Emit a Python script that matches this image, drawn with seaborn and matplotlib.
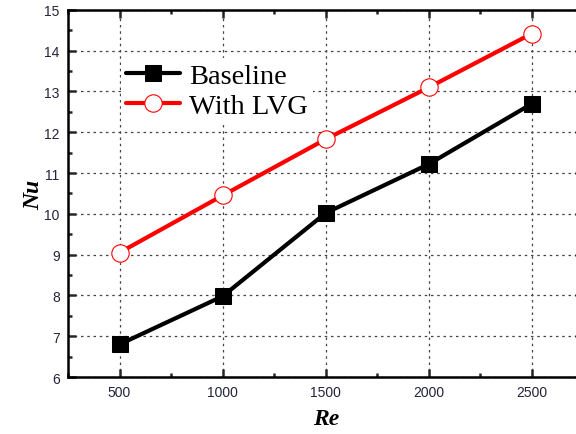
import numpy as np
import pandas as pd
import matplotlib
matplotlib.use("Agg")
import matplotlib.pyplot as plt
from matplotlib.ticker import MultipleLocator
import seaborn as sns

# Datos
re_vals = [500, 1000, 1500, 2000, 2500]
nu_baseline = [6.8, 7.98, 10.02, 11.22, 12.7]
nu_lvg = [9.05, 10.45, 11.83, 13.1, 14.42]
series_names = ["Baseline", "With LVG"]

df = pd.DataFrame({
    "Re": re_vals * 2,
    "Nu": nu_baseline + nu_lvg,
    "serie": [series_names[0]] * 5 + [series_names[1]] * 5,
})

sns.set_style("ticks")
plt.rcParams["font.family"] = ["Liberation Sans", "DejaVu Sans"]
plt.rcParams["text.color"] = "black"
plt.rcParams["axes.labelcolor"] = "black"

fig = plt.figure(figsize=(5.76, 4.35), dpi=100)
ax = fig.add_axes([0.118, 0.131, 0.895, 0.844])

# Baseline
sns.lineplot(data=df[df.serie == series_names[0]], x="Re", y="Nu", ax=ax,
             color="black", linewidth=3, marker="s", markersize=11.5,
             markerfacecolor="black", markeredgecolor="black",
             label=series_names[0], zorder=3)
# With LVG
sns.lineplot(data=df[df.serie == series_names[1]], x="Re", y="Nu", ax=ax,
             color="red", linewidth=3, marker="o", markersize=12.5,
             markerfacecolor="white", markeredgecolor="red", markeredgewidth=0.8,
             label=series_names[1], zorder=3)

ax.set_xlim(250, 2750)
ax.set_ylim(6, 15)
ax.xaxis.set_major_locator(MultipleLocator(500))
ax.xaxis.set_minor_locator(MultipleLocator(250))
ax.yaxis.set_major_locator(MultipleLocator(1))
ax.yaxis.set_minor_locator(MultipleLocator(0.5))

ax.grid(True, which="major", color="#444444", linestyle=(0, (2, 3)), linewidth=0.9)
ax.tick_params(which="both", direction="in", top=True, right=True, width=1.8,
               labelsize=10, labelcolor="#23233a", pad=6)
ax.tick_params(which="major", length=6)
ax.tick_params(which="minor", length=3)
for sp in ax.spines.values():
    sp.set_linewidth(1.8)
    sp.set_color("black")

ax.set_xlabel("Re", fontsize=17, fontweight="bold", fontstyle="italic",
              family=["Liberation Serif"], labelpad=6)
ax.set_ylabel("Nu", fontsize=17, fontweight="bold", fontstyle="italic",
              family=["Liberation Serif"], labelpad=0)

leg = ax.legend(loc="upper left", bbox_to_anchor=(0.102, 0.87), frameon=True,
                framealpha=1, edgecolor="none", facecolor="white",
                prop={"family": "Liberation Serif", "size": 20.5},
                handlelength=1.9, handletextpad=0.3, labelspacing=0.15,
                borderpad=0.2, borderaxespad=0, fancybox=False)
for t in leg.get_texts():
    t.set_color("black")

fig.savefig("out.png", dpi=100)
